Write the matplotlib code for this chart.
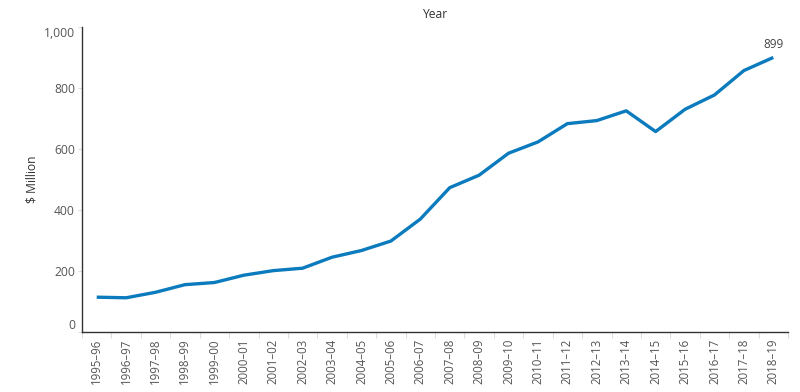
import matplotlib.pyplot as plt
import numpy as np

# Datos
years = ['1995–96', '1996–97', '1997–98', '1998–99', '1999–00', '2000–01',
         '2001–02', '2002–03', '2003–04', '2004–05', '2005–06', '2006–07',
         '2007–08', '2008–09', '2009–10', '2010–11', '2011–12', '2012–13',
         '2013–14', '2014–15', '2015–16', '2016–17', '2017–18', '2018–19']
spending = [113, 111, 129, 154, 161, 185, 200, 208, 244, 266, 297, 369,
            472, 513, 585, 622, 682, 692, 724, 656, 729, 776, 856, 899]
y_ticks = [0, 200, 400, 600, 800, 1000]

plt.rcParams['font.family'] = ['Open Sans', 'DejaVu Sans']

fig = plt.figure(figsize=(8, 3.92), dpi=100)
ax = fig.add_axes([0.1025, 0.154, 0.8825, 0.778])

x = np.arange(len(years))
ax.plot(x, spending, color='#0b7bbd', linewidth=2.4, solid_capstyle='butt')

# Etiqueta del último valor
ax.annotate(f'{spending[-1]:,}', (x[-1], spending[-1]), xytext=(0, 5),
            textcoords='offset points', ha='center', va='bottom',
            fontsize=8.5, color='#444444')

ax.set_xlim(-0.5, len(years) - 0.5)
ax.set_ylim(0, 1000)

ax.set_xticks(x)
ax.set_xticklabels(years, rotation=90, fontsize=8.3, color='#555555')
ax.set_xticks(np.arange(-0.5, len(years), 1), minor=True)
ax.tick_params(axis='x', which='major', length=0, pad=5)
ax.tick_params(axis='x', which='minor', length=4, color='#dddddd', width=0.8)

ax.set_yticks(y_ticks)
ax.set_yticklabels([f'{v:,}' for v in y_ticks], fontsize=8.7, color='#555555')
ax.tick_params(axis='y', length=3, color='#dddddd', width=0.8, pad=2)
labs = ax.get_yticklabels()
labs[0].set_va('bottom')
labs[-1].set_va('top')

for side in ['top', 'right']:
    ax.spines[side].set_visible(False)
for side in ['left', 'bottom']:
    ax.spines[side].set_color('#333333')
    ax.spines[side].set_linewidth(1.0)

ax.set_ylabel('$ Million', fontsize=8.7, color='#333333', labelpad=4)
ax.set_title('Year', fontsize=8.7, color='#333333', pad=6)

fig.savefig('out.png', dpi=100)
